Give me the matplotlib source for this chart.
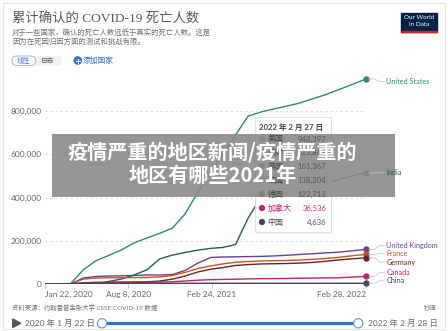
import matplotlib
matplotlib.use('Agg')
import matplotlib.pyplot as plt
from matplotlib.patches import Rectangle, FancyBboxPatch, Circle, Polygon
from matplotlib.ticker import FuncFormatter
import pandas as pd

# ---------------- data ----------------
dates = pd.to_datetime([
    "2020-01-22", "2020-02-22", "2020-03-22", "2020-04-22", "2020-05-22", "2020-06-22",
    "2020-07-22", "2020-08-22", "2020-09-22", "2020-10-22", "2020-11-22", "2020-12-22",
    "2021-01-22", "2021-02-22", "2021-03-22", "2021-04-22", "2021-05-22", "2021-06-22",
    "2021-07-22", "2021-08-22", "2021-09-22", "2021-10-22", "2021-11-22", "2021-12-22",
    "2022-01-22", "2022-02-28"])

united_states = [0, 0, 0, 66000, 108000, 133000, 158000, 191000, 214000, 235000, 260000, 325000,
                 426000, 519000, 597000, 690000, 777000, 796000, 810000, 823000, 837000, 856000,
                 875000, 897000, 920000, 948397]
india = [0, 0, 0, 0, 0, 13000, 24000, 43000, 67000, 117000, 135000, 147000,
         158000, 166000, 170000, 184000, 306000, 403000, 436000, 445000, 454000, 459000,
         466000, 482000, 500000, 513843]
united_kingdom = [0, 0, 0, 29000, 36000, 38000, 39000, 41000, 43000, 43000, 45000, 64000,
                  98000, 124000, 126000, 127000, 128000, 129000, 131000, 134000, 138000, 141000,
                  145000, 148000, 154000, 161367]
france = [0, 0, 0, 24000, 29000, 30000, 30500, 31000, 31500, 34000, 41000, 55000,
          73000, 85000, 94000, 102000, 105000, 108000, 109000, 110000, 112000, 115000,
          119000, 124000, 131000, 138204]
germany = [0, 0, 0, 7000, 9000, 9500, 10000, 10600, 11500, 15000, 24000, 38000,
           57000, 70000, 77000, 87000, 91000, 94000, 95000, 96000, 98000, 101000,
           106000, 112000, 117000, 122713]
canada = [0, 0, 0, 4000, 7000, 8500, 9000, 9000, 9300, 10000, 12000, 15000,
          19000, 21500, 22500, 23500, 25000, 26000, 26500, 27000, 28000, 28500,
          29500, 30000, 33000, 36536]
china = [17, 2500, 3300, 4600, 4634, 4634, 4634, 4634, 4634, 4634, 4634, 4634,
         4635, 4636, 4636, 4636, 4636, 4636, 4636, 4636, 4636, 4636,
         4636, 4636, 4636, 4636]

series = [united_states, india, united_kingdom, france, germany, canada, china]
names_en = ["United States", "India", "United Kingdom", "France", "Germany", "Canada", "China"]
names_zh = ["美国", "印度", "英国", "法国", "德国", "加拿大", "中国"]
colors = ["#2a8a76", "#1f6343", "#6c3f91", "#c2561f", "#6e2222", "#c2226e", "#3d4856"]

y_ticks = [0, 200000, 400000, 600000, 800000]
x_tick_dates = pd.to_datetime(["2020-01-22", "2020-08-08", "2021-02-24", "2022-02-28"])
x_tick_labels = ["Jan 22, 2020", "Aug 8, 2020", "Feb 24, 2021", "Feb 28, 2022"]

plt.rcParams['font.family'] = ['Lato', 'Noto Sans CJK SC', 'DejaVu Sans']

W, H = 448, 331
fig = plt.figure(figsize=(W / 100, H / 100), dpi=100)
fig.patch.set_facecolor('white')

x0_px, x1_px = 45, 366
y0_px, ytop_px = 284.3, 67.8
ax = fig.add_axes([x0_px / W, 1 - y0_px / H, (x1_px - x0_px) / W, (y0_px - ytop_px) / H])
ax.set_zorder(1)
ax.patch.set_alpha(0)
ax.set_xlim(dates[0], dates[-1])
ax.set_ylim(0, 1_000_000)
for s in ax.spines.values():
    s.set_visible(False)

for v in y_ticks[1:]:
    ax.axhline(v, color='#d9d9d9', lw=0.6, ls=(0, (3, 3)), zorder=0)
ax.axhline(0, color='#9a9a9a', lw=0.8, zorder=1)
ax.axvline(dates[-1], color='#e2e2e2', lw=0.7, zorder=0)

ax.set_yticks(y_ticks)
ax.yaxis.set_major_formatter(FuncFormatter(lambda v, p: f"{int(v):,}"))
ax.tick_params(axis='y', length=0, pad=2.5, labelsize=6, labelcolor='#666666')
ax.set_xticks(x_tick_dates)
ax.set_xticklabels(x_tick_labels)
ax.tick_params(axis='x', length=3, width=0.6, color='#bbbbbb', pad=1.5, labelsize=6,
               labelcolor='#666666')
xl = ax.get_xticklabels()
xl[0].set_ha('left')
xl[-1].set_ha('right')

for vals, c in zip(series, colors):
    ax.plot(dates, vals, color=c, lw=1.0, zorder=3, solid_capstyle='round')
    ax.plot([dates[-1]], [vals[-1]], 'o', color=c, ms=3.6, zorder=4, clip_on=False)

# ---------------- overlay (pixel coordinates) ----------------
ov = fig.add_axes([0, 0, 1, 1])
ov.set_zorder(5)
ov.set_xlim(0, W)
ov.set_ylim(H, 0)
ov.axis('off')
ov.patch.set_alpha(0)

ov.add_patch(Rectangle((3, 3), W - 6, H - 5, fill=False, ec='#e4e4e4', lw=0.8))

# header
ov.text(12, 18.5, "累计确认的 COVID-19 死亡人数", fontsize=9.6, color='#5a5a5a',
        family=['Liberation Serif', 'Noto Sans CJK SC'], va='center', ha='left')
ov.text(12, 33.3, "对于一些国家，确认的死亡人数远低于真实的死亡人数。这是", fontsize=5.3,
        color='#6e6e6e', va='center', ha='left', family=['Noto Sans CJK SC'])
ov.text(12, 42.3, "因为在死因归因方面的测试和挑战有限。", fontsize=5.3,
        color='#6e6e6e', va='center', ha='left', family=['Noto Sans CJK SC'])

ov.add_patch(FancyBboxPatch((12, 56), 50, 9.5, boxstyle="round,pad=0,rounding_size=4.5",
                            fc='#f0f0f0', ec='none'))
ov.add_patch(FancyBboxPatch((12, 56), 23.5, 9.5, boxstyle="round,pad=0,rounding_size=4.5",
                            fc='white', ec='#9dbbe3', lw=0.7))
ov.text(23.7, 60.8, "线性", fontsize=4.8, color='#3c6fb5', ha='center', va='center',
        family=['Noto Sans CJK SC'])
ov.text(47.5, 60.8, "日志", fontsize=4.8, color='#555555', ha='center', va='center',
        family=['Noto Sans CJK SC'])
ov.add_patch(Circle((77.8, 60.5), 3.6, color='#2f6fd0'))
ov.plot([75.8, 79.8], [60.5, 60.5], color='white', lw=0.8)
ov.plot([77.8, 77.8], [58.5, 62.5], color='white', lw=0.8)
ov.text(83, 60.8, "添加国家", fontsize=5.6, color='#2f6fd0', ha='left', va='center',
        family=['Noto Sans CJK SC'])

# logo
ov.add_patch(Rectangle((400.7, 12.7), 36, 19.6, color='#002147'))
ov.add_patch(Rectangle((400.7, 31.0), 36, 1.3, color='#ce261e'))
ov.text(418.7, 17.6, "Our World", fontsize=4.6, color='white', ha='center', va='center')
ov.text(418.7, 24.6, "in Data", fontsize=4.6, color='white', ha='center', va='center')

# end labels with connectors
label_y = [81.5, 172.7, 245.7, 253.7, 262.0, 272.7, 280.7]
for vals, c, name, ly in zip(series, colors, names_en, label_y):
    dy = H - ax.transData.transform((ax.get_xlim()[1], vals[-1]))[1]
    ov.plot([369, 375, 379, 384], [dy, dy, ly, ly], color='#c8c8c8', lw=0.6)
    ov.text(386.5, ly, name, fontsize=5.2, color=c, ha='left', va='center')

# tooltip
ov.add_patch(Rectangle((255.5, 118.5), 76, 115, fc='#000000', ec='none', alpha=0.05))
ov.add_patch(Rectangle((254.5, 117), 76, 115, fc='white', ec='#dddddd', lw=0.6))
ov.text(259, 127, "2022 年 2 月 27 日", fontsize=5.6, color='#444444', ha='left', va='center',
        fontweight='bold')
row_y = [139, 152.5, 166, 180, 194, 208, 222]
for vals, c, zh, ry in zip(series, colors, names_zh, row_y):
    tc = c if zh == "加拿大" else '#444444'
    vc = c if zh == "加拿大" else '#555555'
    ov.add_patch(Circle((262, ry), 2.4, color=c))
    ov.text(267.5, ry, zh, fontsize=5.8, color=tc, ha='left', va='center',
            family=['Noto Sans CJK SC'])
    ov.text(326.5, ry, f"{vals[-1]:,}", fontsize=5.6, color=vc, ha='right', va='center')

# watermark banner
ov.add_patch(Rectangle((52, 134), 343, 63, fc='#8a8a8a', ec='none', alpha=0.9))
ov.text(212, 152, "疫情严重的地区新闻/疫情严重的", fontsize=14.5, color='white',
        ha='center', va='center', fontweight='bold', family=['Noto Sans CJK SC'])
ov.text(213, 175, "地区有哪些2021年", fontsize=14.5, color='white',
        ha='center', va='center', fontweight='bold', family=['Noto Sans CJK SC'])

# footer
ov.text(12, 307.5, "资料来源：约翰霍普金斯大学 CSSE COVID-19 数据", fontsize=4.6, color='#777777',
        ha='left', va='center')
ov.text(437, 307.5, "秒速", fontsize=4.6, color='#777777', ha='right', va='center')
ov.add_patch(Polygon([[12.7, 319], [12.7, 327.5], [20.7, 323.2]], closed=True, color='#555555'))
ov.text(25, 323.3, "2020 年 1 月 22 日", fontsize=6, color='#666666', ha='left', va='center')
ov.plot([102, 358.3], [323.3, 323.3], color='#2f6fd0', lw=2.3, solid_capstyle='butt')
for cx in (102, 358.3):
    ov.add_patch(Circle((cx, 323.3), 4.6, fc='white', ec='#5b95d8', lw=0.8, zorder=5))
ov.text(367.5, 323.3, "2022 年 2 月 28 日", fontsize=6, color='#666666', ha='left', va='center')

fig.savefig('out.png', dpi=100)
